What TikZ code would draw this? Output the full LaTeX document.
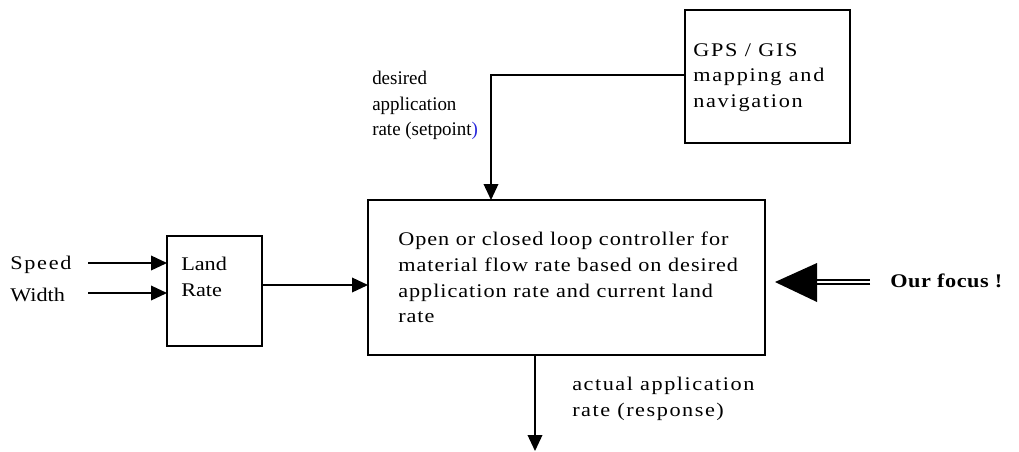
\documentclass[tikz,border=0pt]{standalone}
\usepackage{fontspec}
\setmainfont{Liberation Serif}[FakeStretch=1.15]
\newfontfamily\narrowfont{Liberation Serif}[FakeStretch=0.98]
\usetikzlibrary{arrows.meta}
\definecolor{linkblue}{RGB}{40,40,220}
\newcommand{\lblsize}{\fontsize{14.5}{19.2}\selectfont}
\tikzset{
  px/.style={x=0.75pt,y=-0.75pt},
  lbl/.style={font=\lblsize,inner sep=0pt,anchor=north west,align=left},
  spaced/.style={font=\lblsize\addfontfeatures{LetterSpace=#1}},
  flow/.style={line width=1.1pt,-{Triangle[length=12pt,width=11pt]}},
  plainbox/.style={draw,line width=0.9pt},
  mainbox/.style={draw,line width=2.2pt},
}
\begin{document}
\begin{tikzpicture}[px]
\useasboundingbox (0,0) rectangle (1019,451);
% GPS / GIS box and its link into the controller
\draw[plainbox] (685,10) rectangle (850,143);
\node[lbl,spaced=9] (gps) at (693,43) {GPS / GIS\\mapping and\\navigation};
\coordinate (gpsw) at (685,75);
% controller box
\draw[mainbox] (368,200) rectangle (765,355);
\coordinate (maintop) at (491,200);
\coordinate (mainleft) at (368,285);
\coordinate (mainright) at (775,282);
\coordinate (mainbot) at (535,355);
\node[lbl,spaced=5] (ctrl) at (398,232) {Open or closed loop controller for\\material flow rate based on desired\\application rate and current land\\rate};
% land rate box
\draw[plainbox] (167,236) rectangle (262,346);
\node[lbl] (land) at (181,257) {Land\\Rate};
\coordinate (landw1) at (167,263);
\coordinate (landw2) at (167,293);
\coordinate (lande) at (262,285);
% inputs
\node[lbl,anchor=west,spaced=9] (speed) at (10,265) {Speed};
\node[lbl,anchor=west] (width) at (10,295) {Width};
\draw[flow] (88,263) -- (landw1);
\draw[flow] (88,293) -- (landw2);
\draw[flow] (lande) -- (mainleft);
% setpoint
\node[lbl,font=\lblsize\narrowfont] (sp) at (372,71) {desired\\application\\rate (setpoint\textcolor{linkblue}{)}};
\draw[flow] (gpsw) -| (maintop);
% response
\coordinate (resp) at (535,451);
\draw[flow] (mainbot) -- (resp);
\node[lbl,spaced=8] (act) at (572,377) {actual application\\rate (response)};
% focus marker
\node[lbl,anchor=west,font=\bfseries\lblsize\addfontfeatures{LetterSpace=3}] (focus) at (890,281) {Our focus !};
\coordinate (focustail) at (870,282);
\draw[double,double distance=2.2pt,line width=1pt] (focustail) -- (812,282);
\fill (mainright) -- (817,263) -- (817,302) -- cycle;
\end{tikzpicture}
\end{document}
